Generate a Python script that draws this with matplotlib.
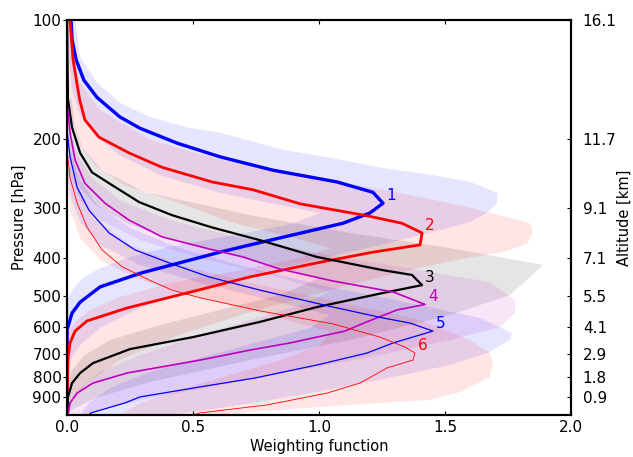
import numpy as np
import matplotlib
matplotlib.use("Agg")
import matplotlib.pyplot as plt

# ---------------- data ----------------
# mean weighting functions: pressure [hPa] and value
p1 = [100, 112, 126, 142, 157, 176, 188, 205, 222, 240, 257, 273, 291, 308, 327, 371, 387, 437, 474, 518, 552, 609, 1000]
w1 = [0.016, 0.02, 0.036, 0.067, 0.119, 0.21, 0.29, 0.437, 0.607, 0.817, 1.071, 1.214, 1.254, 1.202, 1.095, 0.726, 0.607, 0.294, 0.131, 0.052, 0.02, 0.0, 0.0]

p2 = [100, 126, 159, 179, 198, 217, 236, 257, 269, 292, 313, 327, 346, 371, 387, 412, 447, 491, 536, 578, 613, 657, 717, 1000]
w2 = [0.012, 0.024, 0.05, 0.071, 0.127, 0.246, 0.377, 0.575, 0.738, 0.925, 1.19, 1.329, 1.409, 1.401, 1.214, 0.992, 0.726, 0.476, 0.238, 0.079, 0.032, 0.012, 0.004, 0.0]

p3 = [100, 159, 187, 217, 243, 259, 289, 312, 335, 361, 398, 430, 442, 469, 491, 533, 581, 635, 681, 739, 783, 830, 900, 1000]
w3 = [0.0, 0.004, 0.02, 0.052, 0.099, 0.167, 0.286, 0.417, 0.575, 0.766, 0.992, 1.254, 1.369, 1.409, 1.254, 0.992, 0.766, 0.5, 0.25, 0.103, 0.052, 0.02, 0.004, 0.0]

p4 = [100, 160, 193, 226, 259, 291, 321, 354, 380, 398, 427, 458, 488, 525, 542, 581, 613, 657, 685, 726, 783, 830, 880, 932, 1000]
w4 = [0.0, 0.0, 0.012, 0.032, 0.071, 0.151, 0.246, 0.377, 0.565, 0.698, 0.845, 1.056, 1.294, 1.421, 1.31, 1.19, 1.103, 0.885, 0.726, 0.528, 0.238, 0.103, 0.04, 0.012, 0.004]

p5 = [100, 190, 222, 265, 303, 346, 382, 412, 447, 483, 533, 568, 585, 613, 627, 657, 697, 747, 806, 849, 900, 932, 988, 1000]
w5 = [0.0, 0.0, 0.012, 0.04, 0.087, 0.167, 0.27, 0.405, 0.563, 0.766, 1.056, 1.254, 1.361, 1.452, 1.401, 1.294, 1.19, 0.992, 0.746, 0.528, 0.29, 0.23, 0.095, 0.085]

p6 = [100, 213, 251, 290, 334, 382, 421, 455, 483, 505, 545, 588, 635, 673, 697, 726, 760, 830, 880, 943, 988, 1000]
w6 = [0.0, 0.0, 0.012, 0.04, 0.079, 0.139, 0.218, 0.325, 0.417, 0.528, 0.766, 1.056, 1.242, 1.341, 1.381, 1.373, 1.27, 1.163, 1.032, 0.794, 0.528, 0.5]

# envelopes: upper (hi) and lower (lo) bounds
hi1_p = [100, 108, 124, 144, 162, 176, 187, 193, 213, 224, 237, 247, 257, 274, 291, 306, 325, 344, 361, 387, 425, 477, 536, 602, 665, 726, 792]
hi1_w = [0.032, 0.04, 0.052, 0.119, 0.21, 0.329, 0.476, 0.607, 0.857, 1.056, 1.254, 1.452, 1.599, 1.71, 1.706, 1.671, 1.599, 1.452, 1.321, 1.123, 0.845, 0.528, 0.29, 0.131, 0.052, 0.012, 0.0]
lo1_p = [100, 126, 150, 174, 196, 220, 247, 274, 294, 308, 329, 352, 375, 398, 425, 450, 483, 512]
lo1_w = [0.0, 0.008, 0.02, 0.052, 0.111, 0.21, 0.369, 0.607, 0.845, 1.004, 0.885, 0.647, 0.409, 0.25, 0.131, 0.063, 0.02, 0.0]

hi2_p = [100, 119, 144, 169, 201, 226, 247, 274, 297, 327, 346, 369, 387, 400, 435, 483, 549, 627, 726, 840, 943, 1000]
hi2_w = [0.02, 0.02, 0.052, 0.131, 0.329, 0.607, 0.925, 1.321, 1.587, 1.837, 1.849, 1.825, 1.73, 1.587, 1.321, 1.044, 0.726, 0.448, 0.21, 0.071, 0.012, 0.0]
lo2_p = [100, 142, 179, 207, 233, 262, 294, 325, 354, 378, 400, 430, 463, 503, 542, 581, 627]
lo2_w = [0.0, 0.004, 0.02, 0.052, 0.111, 0.23, 0.468, 0.647, 0.885, 1.044, 0.925, 0.687, 0.409, 0.21, 0.091, 0.032, 0.0]

hi3_p = [159, 182, 210, 240, 273, 297, 312, 346, 378, 417, 455, 497, 558, 646, 726, 825, 906, 971, 1000]
hi3_w = [0.02, 0.028, 0.06, 0.139, 0.31, 0.575, 0.726, 1.123, 1.52, 1.889, 1.825, 1.758, 1.52, 1.123, 0.726, 0.329, 0.111, 0.02, 0.0]
lo3_p = [159, 190, 226, 262, 294, 330, 371, 410, 450, 497, 542, 592, 646, 705, 769, 840]
lo3_w = [0.0, 0.0, 0.012, 0.044, 0.111, 0.25, 0.488, 0.766, 1.004, 0.845, 0.607, 0.369, 0.171, 0.071, 0.02, 0.0]

hi4_p = [190, 220, 251, 286, 321, 356, 394, 430, 461, 512, 552, 599, 646, 705, 769, 840, 906, 971, 1000]
hi4_w = [0.012, 0.044, 0.099, 0.21, 0.409, 0.687, 1.044, 1.401, 1.679, 1.778, 1.778, 1.718, 1.52, 1.242, 0.925, 0.607, 0.329, 0.131, 0.071]
lo4_p = [201, 247, 286, 321, 361, 400, 442, 488, 527, 575, 640, 705, 778, 854, 943, 1000]
lo4_w = [0.0, 0.012, 0.052, 0.131, 0.29, 0.528, 0.806, 1.044, 0.925, 0.726, 0.488, 0.29, 0.131, 0.052, 0.012, 0.0]

hi5_p = [213, 254, 294, 336, 378, 425, 474, 527, 568, 620, 646, 697, 747, 815, 890, 960, 1000]
hi5_w = [0.012, 0.052, 0.119, 0.25, 0.448, 0.726, 1.044, 1.401, 1.639, 1.766, 1.758, 1.667, 1.52, 1.242, 0.925, 0.607, 0.409]
lo5_p = [226, 277, 325, 371, 417, 463, 512, 559, 602, 652, 717, 778, 854, 927, 1000]
lo5_w = [0.0, 0.012, 0.052, 0.131, 0.29, 0.528, 0.806, 1.044, 0.964, 0.766, 0.528, 0.329, 0.171, 0.091, 0.052]

hi6_p = [233, 277, 321, 371, 417, 463, 512, 575, 646, 697, 739, 801, 875, 916, 943, 983, 1000]
hi6_w = [0.012, 0.052, 0.119, 0.25, 0.448, 0.726, 1.044, 1.401, 1.599, 1.679, 1.69, 1.679, 1.56, 1.44, 1.123, 0.726, 0.607]
lo6_p = [247, 303, 356, 405, 455, 505, 559, 616, 665, 726, 792, 865, 932, 1000]
lo6_w = [0.0, 0.012, 0.052, 0.131, 0.29, 0.528, 0.806, 1.044, 1.004, 0.845, 0.647, 0.448, 0.29, 0.21]

curve_labels = ["1", "2", "3", "4", "5", "6"]
colors = ["b", "r", "k", "m", "b", "r"]
linewidths = [2.4, 2.0, 1.6, 1.2, 0.9, 0.6]

pressure_ticks = [100, 200, 300, 400, 500, 600, 700, 800, 900]
altitude_labels = ["16.1", "11.7", "9.1", "7.1", "5.5", "4.1", "2.9", "1.8", "0.9"]
x_ticks = [0.0, 0.5, 1.0, 1.5, 2.0]

# ---------------- plotting ----------------
plt.rcParams["font.family"] = "DejaVu Sans"
FS = 10.5
TFS = 11

fig = plt.figure(figsize=(6.33, 4.57), dpi=100)
ax = fig.add_axes([67 / 633, 1 - 415 / 457, (571 - 67) / 633, (415 - 20) / 457])

means = [(p1, w1), (p2, w2), (p3, w3), (p4, w4), (p5, w5), (p6, w6)]
envs = [(hi1_p, hi1_w, lo1_p, lo1_w), (hi2_p, hi2_w, lo2_p, lo2_w),
        (hi3_p, hi3_w, lo3_p, lo3_w), (hi4_p, hi4_w, lo4_p, lo4_w),
        (hi5_p, hi5_w, lo5_p, lo5_w), (hi6_p, hi6_w, lo6_p, lo6_w)]

for (hp, hw, lp, lw), c in zip(envs, colors):
    xs = np.concatenate([hw, lw[::-1]])
    ys = np.concatenate([hp, lp[::-1]])
    ax.fill(xs, ys, color=c, alpha=0.1, lw=0, zorder=1)

for (p, w), c, lwid, lab in zip(means, colors, linewidths, curve_labels):
    ax.plot(w, p, color=c, lw=lwid, zorder=3)
    i = int(np.argmax(w))
    ax.text(w[i] + 0.012, p[i], lab, color=c, fontsize=TFS, ha="left", va="bottom", zorder=4)

ax.set_yscale("log")
ax.set_ylim(1000, 100)
ax.set_xlim(0, 2.0)
ax.set_yticks(pressure_ticks)
ax.set_yticklabels([str(t) for t in pressure_ticks])
ax.yaxis.set_minor_locator(matplotlib.ticker.NullLocator())
ax.set_xticks(x_ticks)
ax.set_xticklabels(["%.1f" % t for t in x_ticks])
ax.tick_params(axis="x", direction="in", top=True, bottom=True, length=3, width=0.8, labelsize=TFS, pad=3.5)
ax.tick_params(axis="y", direction="out", left=True, right=False, length=3, width=0.8, labelsize=TFS, pad=1)
ax.set_xlabel("Weighting function", fontsize=FS, labelpad=3)
ax.set_ylabel("Pressure [hPa]", fontsize=FS, labelpad=4)
for s in ax.spines.values():
    s.set_linewidth(1.5)

ax2 = ax.twinx()
ax2.set_yscale("log")
ax2.set_ylim(1000, 100)
ax2.set_yticks(pressure_ticks)
ax2.set_yticklabels(altitude_labels)
ax2.yaxis.set_minor_locator(matplotlib.ticker.NullLocator())
ax2.tick_params(axis="y", direction="in", length=3, width=0.8, labelsize=TFS, pad=8.5)
ax2.set_ylabel("Altitude [km]", fontsize=FS, labelpad=0)
for s in ax2.spines.values():
    s.set_linewidth(1.5)

fig.savefig("out.png", dpi=100)
